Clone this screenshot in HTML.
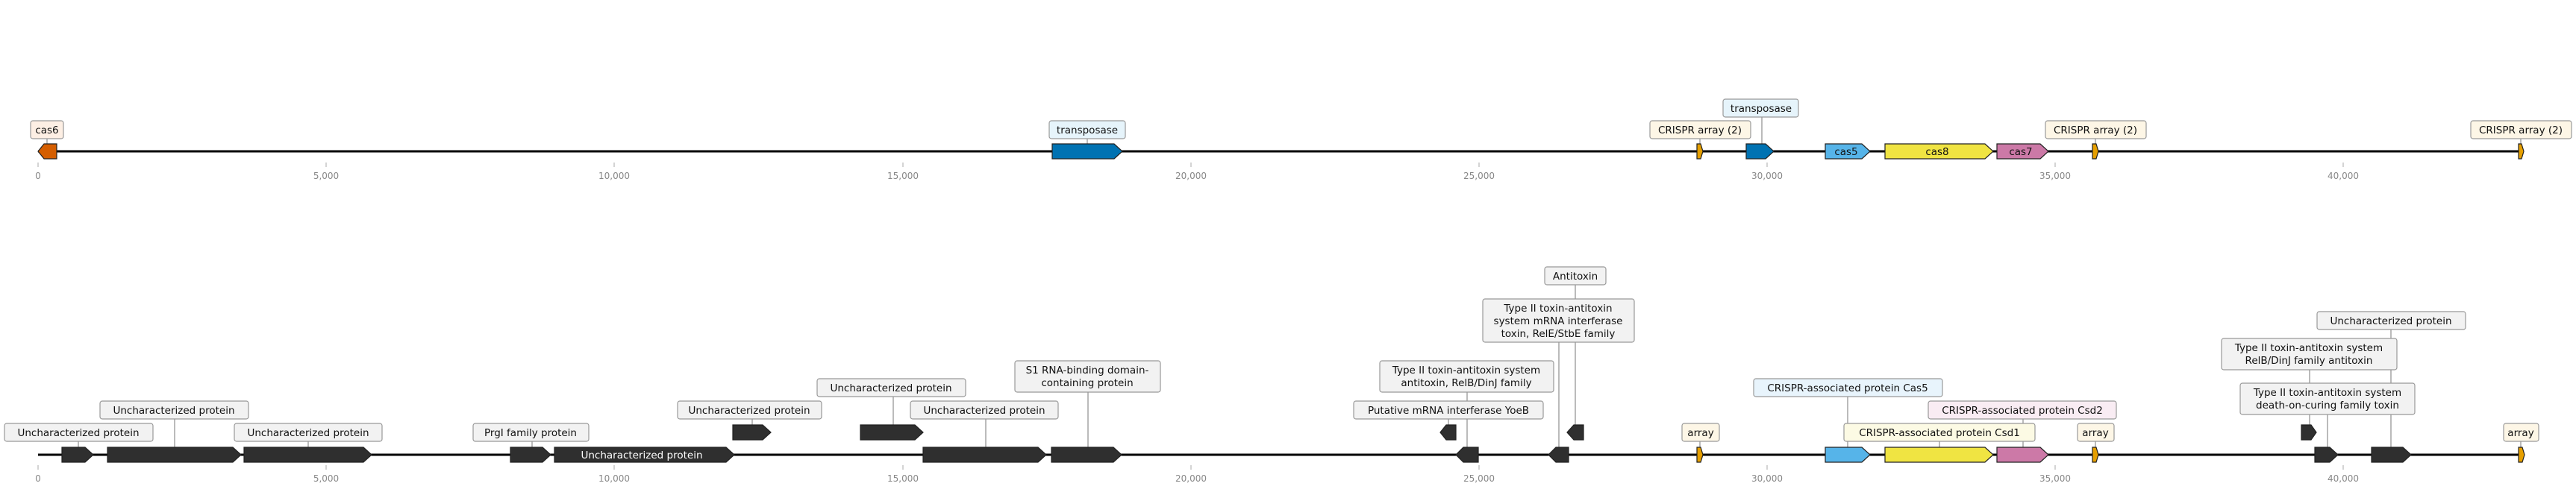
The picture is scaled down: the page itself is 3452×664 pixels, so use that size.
<!DOCTYPE html>
<html><head><meta charset="utf-8"><style>
html,body{margin:0;padding:0;background:#fff;}
svg text{font-family:"DejaVu Sans","Liberation Sans",sans-serif;}
.lb{font-size:13.5px;fill:#111;}
.tk{font-size:12px;fill:#888;}
.ld{stroke:#555;stroke-width:0.8;}
.g{stroke:#222;stroke-width:1.2;}
.bx{stroke:#999;stroke-width:1.2;}
</style></head><body>
<svg width="3452" height="659" viewBox="0 0 3452 659" xmlns="http://www.w3.org/2000/svg">
<!-- TOP TRACK -->
<line x1="51" y1="203" x2="3382" y2="203" stroke="#000" stroke-width="3"/>
<g stroke="#aaa" stroke-width="1">
<line x1="51" y1="218" x2="51" y2="224"/><line x1="437" y1="218" x2="437" y2="224"/><line x1="823" y1="218" x2="823" y2="224"/><line x1="1210" y1="218" x2="1210" y2="224"/><line x1="1596" y1="218" x2="1596" y2="224"/><line x1="1982" y1="218" x2="1982" y2="224"/><line x1="2368" y1="218" x2="2368" y2="224"/><line x1="2754" y1="218" x2="2754" y2="224"/><line x1="3140" y1="218" x2="3140" y2="224"/>
</g>
<g class="tk" text-anchor="middle">
<text x="51" y="240">0</text><text x="437" y="240">5,000</text><text x="823" y="240">10,000</text><text x="1210" y="240">15,000</text><text x="1596" y="240">20,000</text><text x="1982" y="240">25,000</text><text x="2368" y="240">30,000</text><text x="2754" y="240">35,000</text><text x="3140" y="240">40,000</text>
</g>
<g class="ld">
<line x1="63" y1="186" x2="63" y2="193"/><line x1="1457" y1="186" x2="1457" y2="193"/><line x1="2278" y1="186" x2="2278" y2="193"/><line x1="2361" y1="157" x2="2361" y2="193"/><line x1="2808" y1="186" x2="2808" y2="193"/><line x1="3378" y1="186" x2="3378" y2="193"/>
</g>
<g class="g">
<path d="M76 193 L59 193 L51 203 L59 213 L76 213 Z" fill="#D55E00"/>
<path d="M1410 193 L1493 193 L1504 203 L1493 213 L1410 213 Z" fill="#0072B2"/>
<path d="M2274 193 L2279 193 L2282 203 L2279 213 L2274 213 Z" fill="#E69F00"/>
<path d="M2340 193 L2366 193 L2377 203 L2366 213 L2340 213 Z" fill="#0072B2"/>
<path d="M2446 193 L2495 193 L2506 203 L2495 213 L2446 213 Z" fill="#56B4E9"/>
<path d="M2526 193 L2660 193 L2671 203 L2660 213 L2526 213 Z" fill="#F0E442"/>
<path d="M2676 193 L2734 193 L2745 203 L2734 213 L2676 213 Z" fill="#CC79A7"/>
<path d="M2804 193 L2809 193 L2812 203 L2809 213 L2804 213 Z" fill="#E69F00"/>
<path d="M3375 193 L3379 193 L3382 203 L3379 213 L3375 213 Z" fill="#E69F00"/>
</g>
<g class="lb" text-anchor="middle">
<text x="2474" y="208">cas5</text><text x="2596" y="208">cas8</text><text x="2708" y="208">cas7</text>
</g>
<g class="bx">
<rect x="41" y="162" width="44" height="24" rx="3" fill="#fdefe4"/>
<rect x="1406" y="162" width="102" height="24" rx="3" fill="#e6f4fb"/>
<rect x="2211" y="162" width="135" height="24" rx="3" fill="#fdf6e6"/>
<rect x="2309" y="133" width="101" height="24" rx="3" fill="#e6f4fb"/>
<rect x="2741" y="162" width="135" height="24" rx="3" fill="#fdf6e6"/>
<rect x="3311" y="162" width="135" height="24" rx="3" fill="#fdf6e6"/>
</g>
<g class="lb" text-anchor="middle">
<text x="63" y="179">cas6</text><text x="1457" y="179">transposase</text><text x="2278" y="179">CRISPR array (2)</text><text x="2360" y="150">transposase</text><text x="2808" y="179">CRISPR array (2)</text><text x="3378" y="179">CRISPR array (2)</text>
</g>

<!-- BOTTOM TRACK -->
<line x1="51" y1="610" x2="3383" y2="610" stroke="#000" stroke-width="3"/>
<g stroke="#aaa" stroke-width="1">
<line x1="51" y1="624" x2="51" y2="630"/><line x1="437" y1="624" x2="437" y2="630"/><line x1="823" y1="624" x2="823" y2="630"/><line x1="1210" y1="624" x2="1210" y2="630"/><line x1="1596" y1="624" x2="1596" y2="630"/><line x1="1982" y1="624" x2="1982" y2="630"/><line x1="2368" y1="624" x2="2368" y2="630"/><line x1="2754" y1="624" x2="2754" y2="630"/><line x1="3140" y1="624" x2="3140" y2="630"/>
</g>
<g class="tk" text-anchor="middle">
<text x="51" y="646">0</text><text x="437" y="646">5,000</text><text x="823" y="646">10,000</text><text x="1210" y="646">15,000</text><text x="1596" y="646">20,000</text><text x="1982" y="646">25,000</text><text x="2368" y="646">30,000</text><text x="2754" y="646">35,000</text><text x="3140" y="646">40,000</text>
</g>
<g class="ld">
<line x1="105" y1="592" x2="105" y2="600"/><line x1="234" y1="562" x2="234" y2="600"/><line x1="413" y1="592" x2="413" y2="600"/><line x1="713" y1="592" x2="713" y2="600"/><line x1="1008" y1="562" x2="1008" y2="570"/><line x1="1197" y1="532" x2="1197" y2="570"/><line x1="1321" y1="562" x2="1321" y2="600"/><line x1="1458" y1="526" x2="1458" y2="600"/><line x1="1941" y1="562" x2="1941" y2="570"/><line x1="1966" y1="526" x2="1966" y2="600"/><line x1="2089" y1="459" x2="2089" y2="600"/><line x1="2111" y1="382" x2="2111" y2="570"/><line x1="2278" y1="592" x2="2278" y2="600"/><line x1="2476" y1="532" x2="2476" y2="600"/><line x1="2711" y1="562" x2="2711" y2="600"/><line x1="2599" y1="592" x2="2599" y2="600"/><line x1="2808" y1="592" x2="2808" y2="600"/><line x1="3204" y1="442" x2="3204" y2="600"/><line x1="3095" y1="496" x2="3095" y2="570"/><line x1="3119" y1="556" x2="3119" y2="600"/><line x1="3378" y1="592" x2="3378" y2="600"/>
</g>
<g class="g" fill="#2f2f2f">
<path d="M83 600 L114 600 L125 610 L114 620 L83 620 Z"/>
<path d="M144 600 L312 600 L323 610 L312 620 L144 620 Z"/>
<path d="M327 600 L487 600 L498 610 L487 620 L327 620 Z"/>
<path d="M684 600 L727 600 L738 610 L727 620 L684 620 Z"/>
<path d="M743 600 L973 600 L984 610 L973 620 L743 620 Z"/>
<path d="M982 570 L1022 570 L1033 580 L1022 590 L982 590 Z"/>
<path d="M1153 570 L1226 570 L1237 580 L1226 590 L1153 590 Z"/>
<path d="M1237 600 L1391 600 L1402 610 L1391 620 L1237 620 Z"/>
<path d="M1409 600 L1492 600 L1503 610 L1492 620 L1409 620 Z"/>
<path d="M1951 570 L1938 570 L1930 580 L1938 590 L1951 590 Z"/>
<path d="M1981 600 L1961 600 L1951 610 L1961 620 L1981 620 Z"/>
<path d="M2102 600 L2085 600 L2075 610 L2085 620 L2102 620 Z"/>
<path d="M2122 570 L2109 570 L2100 580 L2109 590 L2122 590 Z"/>
<path d="M3084 570 L3097 570 L3104 580 L3097 590 L3084 590 Z"/>
<path d="M3102 600 L3122 600 L3133 610 L3122 620 L3102 620 Z"/>
<path d="M3178 600 L3220 600 L3231 610 L3220 620 L3178 620 Z"/>
</g>
<g class="g">
<path d="M2274 600 L2279 600 L2282 610 L2279 620 L2274 620 Z" fill="#E69F00"/>
<path d="M2446 600 L2495 600 L2506 610 L2495 620 L2446 620 Z" fill="#56B4E9"/>
<path d="M2526 600 L2660 600 L2671 610 L2660 620 L2526 620 Z" fill="#F0E442"/>
<path d="M2676 600 L2734 600 L2745 610 L2734 620 L2676 620 Z" fill="#CC79A7"/>
<path d="M2804 600 L2809 600 L2812 610 L2809 620 L2804 620 Z" fill="#E69F00"/>
<path d="M3375 600 L3380 600 L3383 610 L3380 620 L3375 620 Z" fill="#E69F00"/>
</g>
<text class="lb" x="860" y="615" text-anchor="middle" style="fill:#fff">Uncharacterized protein</text>
<g class="bx" fill="#f2f2f2">
<rect x="6" y="568" width="199" height="24" rx="3"/>
<rect x="134" y="538" width="199" height="24" rx="3"/>
<rect x="314" y="568" width="198" height="24" rx="3"/>
<rect x="634" y="568" width="155" height="24" rx="3"/>
<rect x="908" y="538" width="193" height="24" rx="3"/>
<rect x="1095" y="508" width="199" height="24" rx="3"/>
<rect x="1220" y="538" width="198" height="24" rx="3"/>
<rect x="1360" y="484" width="195" height="42" rx="3"/>
<rect x="1814" y="538" width="254" height="24" rx="3"/>
<rect x="1849" y="484" width="233" height="42" rx="3"/>
<rect x="1987" y="401" width="203" height="58" rx="3"/>
<rect x="2070" y="358" width="82" height="24" rx="3"/>
<rect x="2254" y="568" width="50" height="24" rx="3" fill="#fdf6e6"/>
<rect x="2350" y="508" width="253" height="24" rx="3" fill="#e8f4fc"/>
<rect x="2584" y="538" width="252" height="24" rx="3" fill="#f9ecf3"/>
<rect x="2471" y="568" width="256" height="24" rx="3" fill="#fcfae4"/>
<rect x="2784" y="568" width="49" height="24" rx="3" fill="#fdf6e6"/>
<rect x="3105" y="418" width="199" height="24" rx="3"/>
<rect x="2977" y="454" width="235" height="42" rx="3"/>
<rect x="3002" y="514" width="234" height="42" rx="3"/>
<rect x="3355" y="568" width="47" height="24" rx="3" fill="#fdf6e6"/>
</g>
<g class="lb" text-anchor="middle">
<text x="105" y="585">Uncharacterized protein</text>
<text x="233" y="555">Uncharacterized protein</text>
<text x="413" y="585">Uncharacterized protein</text>
<text x="711" y="585">PrgI family protein</text>
<text x="1004" y="555">Uncharacterized protein</text>
<text x="1194" y="525">Uncharacterized protein</text>
<text x="1319" y="555">Uncharacterized protein</text>
<text x="1457" y="501">S1 RNA-binding domain-</text><text x="1457" y="518">containing protein</text>
<text x="1941" y="555">Putative mRNA interferase YoeB</text>
<text x="1965" y="501">Type II toxin-antitoxin system</text><text x="1965" y="518">antitoxin, RelB/DinJ family</text>
<text x="2088" y="418">Type II toxin-antitoxin</text><text x="2088" y="435">system mRNA interferase</text><text x="2088" y="452">toxin, RelE/StbE family</text>
<text x="2111" y="375">Antitoxin</text>
<text x="2279" y="585">array</text>
<text x="2476" y="525">CRISPR-associated protein Cas5</text>
<text x="2710" y="555">CRISPR-associated protein Csd2</text>
<text x="2599" y="585">CRISPR-associated protein Csd1</text>
<text x="2808" y="585">array</text>
<text x="3204" y="435">Uncharacterized protein</text>
<text x="3094" y="471">Type II toxin-antitoxin system</text><text x="3094" y="488">RelB/DinJ family antitoxin</text>
<text x="3119" y="531">Type II toxin-antitoxin system</text><text x="3119" y="548">death-on-curing family toxin</text>
<text x="3378" y="585">array</text>
</g>
</svg>
</body></html>
